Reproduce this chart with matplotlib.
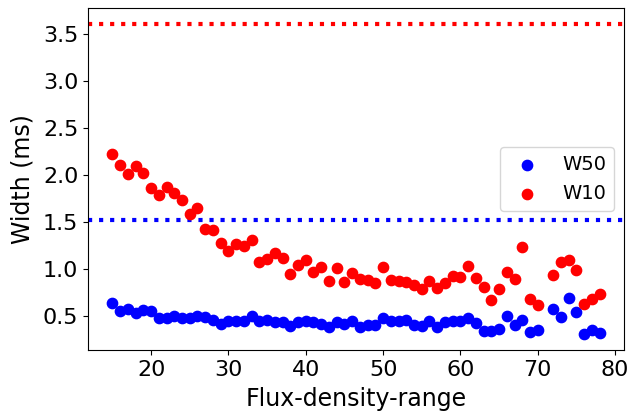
import numpy as np
import matplotlib
matplotlib.use("Agg")
import matplotlib.pyplot as plt

flux = [15, 16, 17, 18, 19, 20, 21, 22, 23, 24, 25, 26, 27, 28, 29, 30, 31, 32, 33, 34,
        35, 36, 37, 38, 39, 40, 41, 42, 43, 44, 45, 46, 47, 48, 49, 50, 51, 52, 53, 54,
        55, 56, 57, 58, 59, 60, 61, 62, 63, 64, 65, 66, 67, 68, 69, 70, 72, 73, 74, 75,
        76, 77, 78]

w50 = [0.636, 0.545, 0.566, 0.53, 0.56, 0.55, 0.475, 0.47, 0.497, 0.475, 0.47, 0.49, 0.486, 0.45, 0.405, 0.44, 0.447, 0.44, 0.497, 0.447,
       0.455, 0.43, 0.43, 0.385, 0.43, 0.44, 0.43, 0.41, 0.38, 0.43, 0.41, 0.447, 0.38, 0.40, 0.40, 0.47, 0.44, 0.44, 0.455, 0.40,
       0.39, 0.44, 0.38, 0.43, 0.447, 0.447, 0.475, 0.42, 0.34, 0.335, 0.355, 0.50, 0.40, 0.455, 0.33, 0.35, 0.57, 0.48, 0.69, 0.535,
       0.30, 0.35, 0.31]

w10 = [2.218, 2.10, 2.01, 2.09, 2.02, 1.86, 1.78, 1.87, 1.81, 1.73, 1.58, 1.65, 1.42, 1.41, 1.27, 1.19, 1.26, 1.245, 1.30, 1.07,
       1.105, 1.17, 1.11, 0.94, 1.04, 1.09, 0.96, 1.02, 0.87, 1.01, 0.86, 0.95, 0.89, 0.88, 0.85, 1.02, 0.88, 0.87, 0.857, 0.825,
       0.78, 0.87, 0.79, 0.85, 0.92, 0.91, 1.03, 0.905, 0.80, 0.67, 0.785, 0.965, 0.89, 1.23, 0.68, 0.615, 0.93, 1.07, 1.09, 0.99,
       0.62, 0.675, 0.73]

w50_ref = 1.52
w10_ref = 3.61

fig = plt.figure(figsize=(6.29, 4.20), dpi=100)
ax = fig.add_axes([0.140, 0.167, 0.852, 0.814])

ax.scatter(flux, w50, s=55, color="blue", label="W50", zorder=3)
ax.scatter(flux, w10, s=55, color="red", label="W10", zorder=3)
ax.axhline(w50_ref, color="blue", ls=":", lw=3)
ax.axhline(w10_ref, color="red", ls=":", lw=3)

ax.set_xlabel("Flux-density-range", fontsize=17, labelpad=5)
ax.set_ylabel("Width (ms)", fontsize=17, labelpad=6)
ax.tick_params(labelsize=16)
ax.set_yticks([0.5, 1.0, 1.5, 2.0, 2.5, 3.0, 3.5])
ax.legend(loc="center right", fontsize=14)

fig.savefig("out.png", dpi=100)
